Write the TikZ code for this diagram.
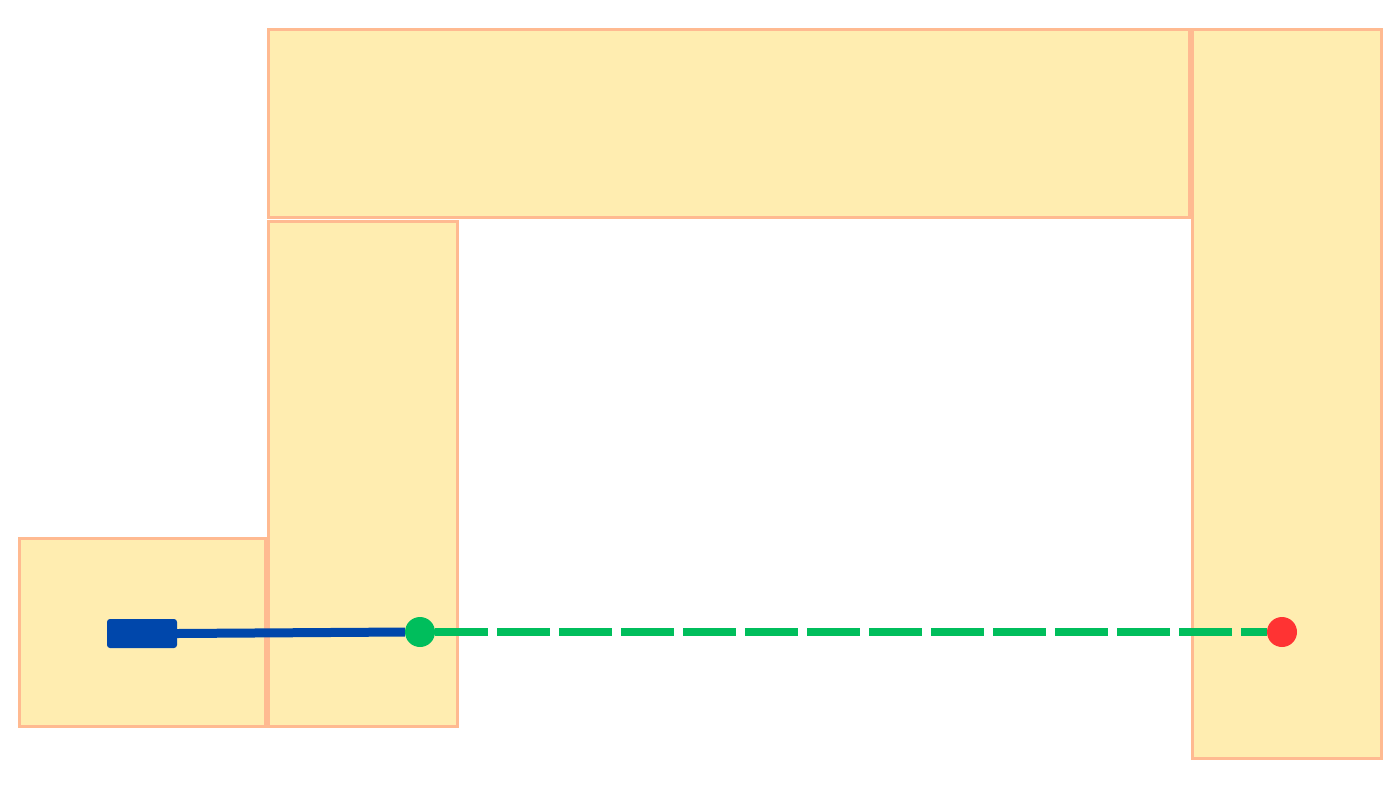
\documentclass[tikz,border=0pt]{standalone}
\begin{document}
\begin{tikzpicture}[x=1pt,y=-1pt,
  room/.style={draw=roomedge,fill=roomfill,line width=3pt},
  dotnode/.style={circle,inner sep=0pt,minimum size=30pt},
]
\definecolor{roomfill}{RGB}{255,237,176}
\definecolor{roomedge}{RGB}{255,186,145}
\definecolor{bluec}{RGB}{0,71,171}
\definecolor{greenc}{RGB}{0,190,92}
\definecolor{redc}{RGB}{255,51,51}
\useasboundingbox (0,0) rectangle (1400,788);
\fill[white] (0,0) rectangle (1400,788);
% rooms
\draw[room] (19,538) rectangle (265,726);
\draw[room] (268,221) rectangle (457,726);
\draw[room] (268,29) rectangle (1189,217);
\draw[room] (1192,29) rectangle (1381,758);
% nodes
\node[fill=bluec,rounded corners=3pt,minimum width=70pt,minimum height=29pt,inner sep=0pt] (start) at (142,633.5) {};
\node[dotnode,fill=greenc] (mid) at (420,632) {};
\node[dotnode,fill=redc] (goal) at (1282,632) {};
% connectors
\draw[bluec,line width=9pt] (start.east) -- (mid.west);
\draw[greenc,line width=8.5pt,dash pattern=on 53pt off 9pt] (mid.east) -- (goal.west);
\end{tikzpicture}
\end{document}
